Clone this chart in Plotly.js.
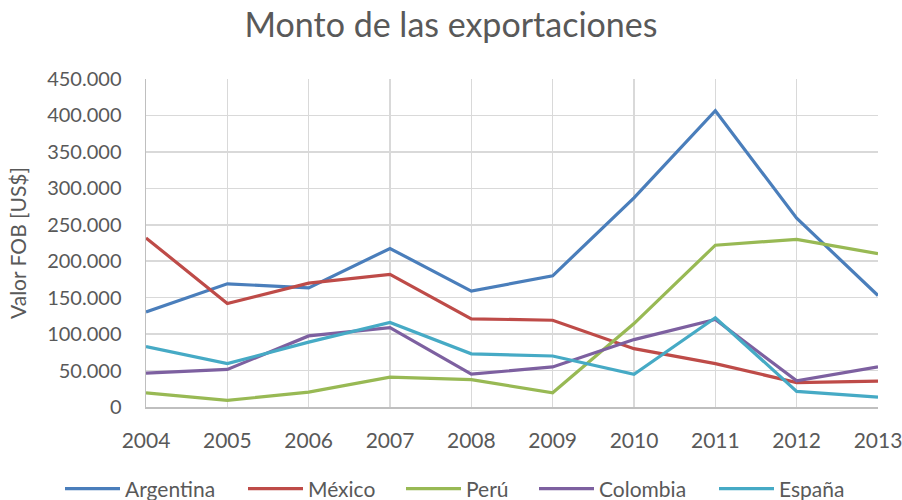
<!DOCTYPE html>
<html>
<head>
<meta charset="utf-8">
<script src="https://cdn.plot.ly/plotly-3.0.1.min.js"></script>
<style>html,body{margin:0;padding:0;background:#fff;}#chart{width:902px;height:500px;}</style>
</head>
<body>
<div id="chart"></div>
<script>
const years = [2004, 2005, 2006, 2007, 2008, 2009, 2010, 2011, 2012, 2013];
const argentina = [130500, 169000, 163500, 217500, 159000, 180000, 287000, 406500, 259000, 153000];
const mexico    = [232000, 142000, 170000, 182000, 121000, 119000, 80000, 59500, 33500, 35500];
const peru      = [19500, 9000, 20500, 41000, 37500, 19500, 114500, 222000, 230000, 210500];
const colombia  = [46500, 51500, 97500, 109000, 45000, 55000, 92500, 120000, 36000, 55000];
const espana    = [83000, 59500, 89000, 116000, 73000, 70000, 45000, 122500, 21500, 13500];
const seriesNames = ['Argentina', 'México', 'Perú', 'Colombia', 'España'];
const seriesColors = ['#4A7EBB', '#BE4B48', '#98B954', '#7D60A0', '#46AAC5'];
const seriesData = [argentina, mexico, peru, colombia, espana];
const legendIds = ['legend', 'legend2', 'legend3', 'legend4', 'legend5'];
const legendLeft = [60, 243, 401, 534, 714];

const traces = seriesData.map((d, i) => ({
  x: years, y: d, name: seriesNames[i], type: 'scatter', mode: 'lines',
  line: {color: seriesColors[i], width: 3.2}, legend: legendIds[i]
}));

const font = 'Lato, "Open Sans", sans-serif';
const layout = {
  width: 902, height: 500,
  margin: {l: 146, r: 24, t: 79, b: 93, autoexpand: false},
  separators: ',.',
  paper_bgcolor: '#fff', plot_bgcolor: '#fff',
  font: {family: font, color: '#595959', size: 21},
  title: {text: 'Monto de las exportaciones', font: {family: font, size: 34, color: '#595959'},
          x: 0.5, xanchor: 'center', xref: 'container', y: 0.95, yanchor: 'middle'},
  xaxis: {range: [2004, 2013], dtick: 1, tick0: 2004, showgrid: true, gridcolor: '#D9D9D9', gridwidth: 1.5,
          showline: true, linecolor: '#BFBFBF', linewidth: 1.5, ticks: '', zeroline: false,
          tickfont: {size: 21, color: '#595959'}, ticklabelstandoff: 14, ticklabeloverflow: 'allow', fixedrange: true},
  yaxis: {range: [0, 450000], dtick: 50000, tick0: 0, tickformat: ',d', showgrid: true, gridcolor: '#D9D9D9', gridwidth: 1.5,
          showline: true, linecolor: '#BFBFBF', linewidth: 1.5, ticks: '', zeroline: false,
          tickfont: {size: 20, color: '#595959'}, ticklabelstandoff: 19,
          title: {text: 'Valor FOB [US$]', font: {size: 21, color: '#595959'}, standoff: 15}},
  showlegend: true
};
legendIds.forEach((id, i) => {
  layout[id] = {orientation: 'h', x: legendLeft[i] / 902, xref: 'container', xanchor: 'left',
                yref: 'container', y: 0.022, yanchor: 'middle', bgcolor: 'rgba(0,0,0,0)',
                font: {size: 21, color: '#595959'}, itemwidth: 55};
});

Plotly.newPlot('chart', traces, layout, {displayModeBar: false, staticPlot: true});
</script>
</body>
</html>
